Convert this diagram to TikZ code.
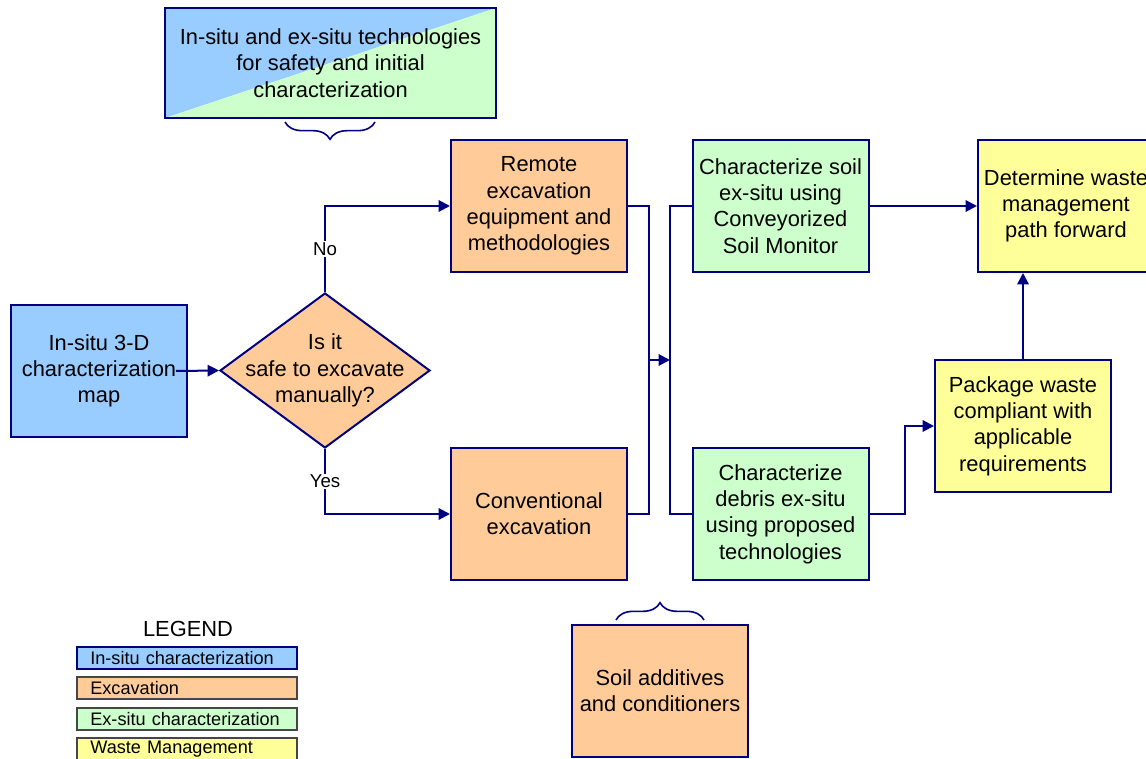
\documentclass[tikz,border=0pt]{standalone}
\usepackage{fontspec}
\setmainfont{Liberation Sans}
\usetikzlibrary{calc,shapes.geometric,arrows.meta,decorations.pathreplacing}
\definecolor{navy}{RGB}{0,0,128}
\definecolor{insitublue}{RGB}{153,204,255}
\definecolor{excorange}{RGB}{255,204,153}
\definecolor{exsitugreen}{RGB}{204,255,204}
\definecolor{wasteyellow}{RGB}{255,255,153}
\definecolor{legendgray}{RGB}{70,70,70}

\begin{document}
\begin{tikzpicture}[x=0.75pt,y=-0.75pt,
    every node/.style={font=\fontsize{16.4}{19.7}\selectfont},
    box/.style={draw=navy,line width=1.5pt,minimum width=132pt,minimum height=99pt,align=center,inner sep=2pt},
    insitu/.style={box,fill=insitublue},
    excav/.style={box,fill=excorange},
    exsitu/.style={box,fill=exsitugreen},
    waste/.style={box,fill=wasteyellow},
    link/.style={draw=navy,line width=1.5pt},
    arr/.style={link,-{Triangle[length=8.5pt,width=8.5pt]}},
    answer/.style={fill=white,inner sep=1pt,font=\fontsize{14}{16}\selectfont},
    curly/.style={draw=navy,line width=1.2pt,decorate,decoration={brace,amplitude=13pt}},
    legend/.style={line width=0.8pt,minimum height=16.5pt,text width=145pt,inner xsep=10pt,inner ysep=0pt,align=left,font=\fontsize{13.6}{15}\selectfont}]
  \useasboundingbox (0,0) rectangle (1146,759);

  \fill[insitublue] (165,8) -- (496,8) -- (165,118) -- cycle;
  \fill[exsitugreen] (496,8) -- (496,118) -- (165,118) -- cycle;
  \node[box,minimum width=248.25pt,minimum height=82.5pt] (tech) at (330.5,63)
    {In-situ and ex-situ technologies\\for safety and initial\\characterization};
  \draw[curly] (375,122) -- (285,122);

  \node[insitu] (map) at (99,371) {In-situ 3-D\\characterization\\map};
  \node[diamond,draw=navy,fill=excorange,line width=1.5pt,minimum width=157.5pt,minimum height=116.25pt,inner sep=0pt,
    label={[align=center]center:Is it\\safe to excavate\\manually?}] (safe) at (325,370.5) {};

  \node[excav] (remote) at (539,206) {Remote\\excavation\\equipment and\\methodologies};
  \node[excav] (conv) at (539,514) {Conventional\\excavation};
  \node[exsitu] (soil) at (780.5,206) {Characterize soil\\ex-situ using\\Conveyorized\\Soil Monitor};
  \node[exsitu] (debris) at (780.5,514) {Characterize\\debris ex-situ\\using proposed\\technologies};
  \node[waste] (path) at (1066,206) {Determine waste\\management\\path forward};
  \node[waste] (pack) at (1023,426) {Package waste\\compliant with\\applicable\\requirements};

  \draw[curly] (616,620) -- (704,620);
  \node[excav] (additive) at (660,691) {Soil additives\\and conditioners};

  \coordinate (joinl) at (649,360);
  \coordinate (joinr) at (670,360);

  \draw[arr] ([xshift=-9pt]map.east) -- (safe.west);
  \draw[arr] (safe.north) |- node[answer,pos=0.25] {No} (remote.west);
  \draw[arr] (safe.south) |- node[answer,pos=0.25] {Yes} (conv.west);
  \draw[link] (remote.east) -| (joinl) |- (conv.east);
  \draw[arr] (joinl) -- (joinr);
  \draw[link] (soil.west) -| (joinr) |- (debris.west);
  \draw[arr] (soil.east) -- (path.west);
  \draw[arr] (debris.east) -- ++(35,0) |- (pack.west);
  \draw[arr] (pack.north) -- (pack.north |- path.south);

  \node (legendhead) at (188,629) {LEGEND};
  \node[legend,draw=navy,fill=insitublue] (leg1) at (187,658) {In-situ characterization};
  \node[legend,draw=legendgray,fill=excorange] (leg2) at (187,688) {Excavation};
  \node[legend,draw=legendgray,fill=exsitugreen] (leg3) at (187,719) {Ex-situ characterization};
  \node[legend,draw=legendgray,fill=wasteyellow] (leg4) at (187,749) {Waste Management};
\end{tikzpicture}
\end{document}
